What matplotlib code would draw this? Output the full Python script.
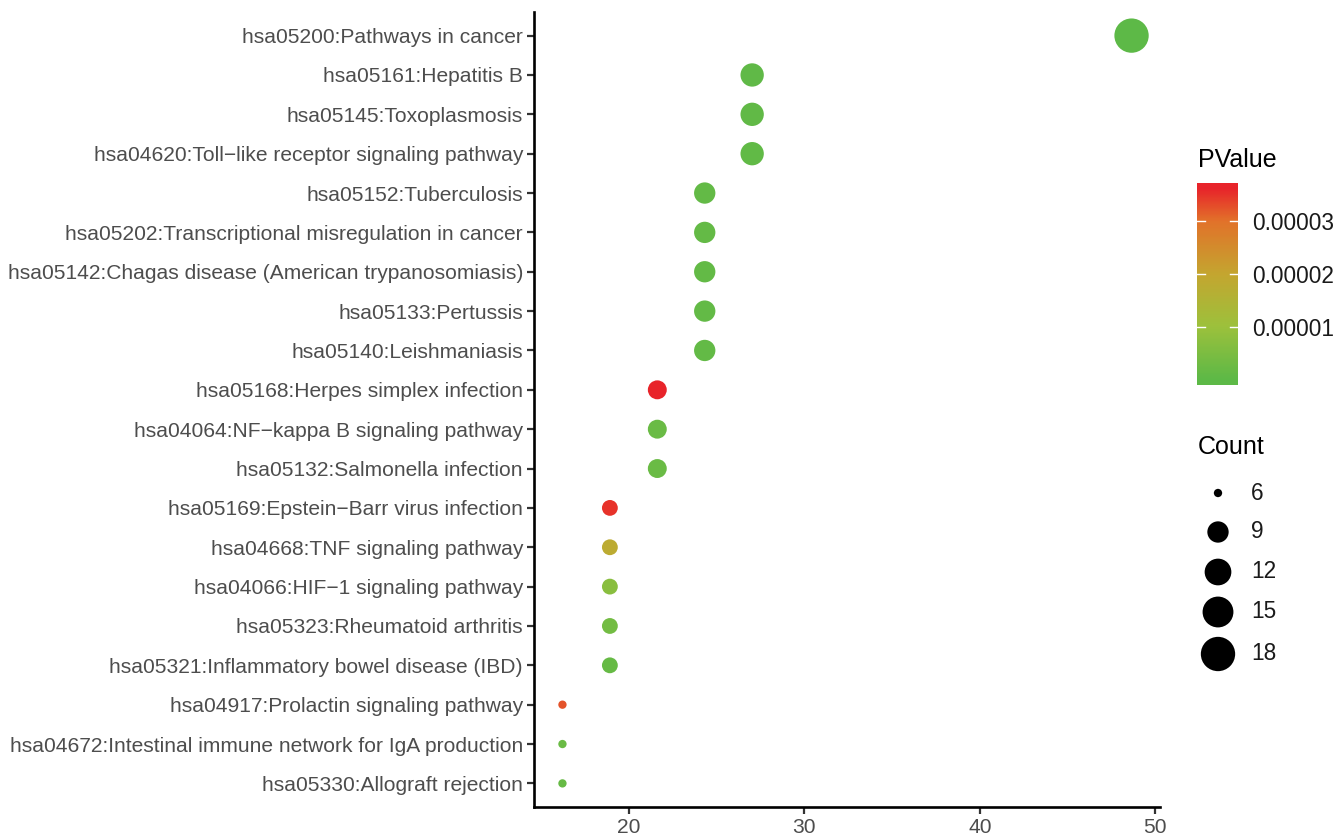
import numpy as np
import matplotlib
matplotlib.use("Agg")
import matplotlib.pyplot as plt
from matplotlib.colors import LinearSegmentedColormap, Normalize

plt.rcParams['font.family'] = ['Liberation Sans', 'DejaVu Sans']

# KEGG pathway enrichment, top row first
terms = [
    "hsa05200:Pathways in cancer",
    "hsa05161:Hepatitis B",
    "hsa05145:Toxoplasmosis",
    "hsa04620:Toll\u2212like receptor signaling pathway",
    "hsa05152:Tuberculosis",
    "hsa05202:Transcriptional misregulation in cancer",
    "hsa05142:Chagas disease (American trypanosomiasis)",
    "hsa05133:Pertussis",
    "hsa05140:Leishmaniasis",
    "hsa05168:Herpes simplex infection",
    "hsa04064:NF\u2212kappa B signaling pathway",
    "hsa05132:Salmonella infection",
    "hsa05169:Epstein\u2212Barr virus infection",
    "hsa04668:TNF signaling pathway",
    "hsa04066:HIF\u22121 signaling pathway",
    "hsa05323:Rheumatoid arthritis",
    "hsa05321:Inflammatory bowel disease (IBD)",
    "hsa04917:Prolactin signaling pathway",
    "hsa04672:Intestinal immune network for IgA production",
    "hsa05330:Allograft rejection",
]
counts = [18, 10, 10, 10, 9, 9, 9, 9, 9, 8, 8, 8, 7, 7, 7, 7, 7, 6, 6, 6]
total_genes = 37
pvalues = [1e-8, 5e-7, 6e-7, 8e-7, 1.0e-6, 1.2e-6, 1.0e-6, 1.0e-6, 1.1e-6,
           3.62e-5, 2.0e-6, 2.0e-6, 3.5e-5, 1.8e-5, 7e-6, 3.5e-6, 1.5e-6,
           3.25e-5, 2.0e-6, 1.5e-6]
size_breaks = [6, 9, 12, 15, 18]
p_breaks = [1e-5, 2e-5, 3e-5]
p_labels = ["0.00001", "0.00002", "0.00003"]

ratio = np.array(counts) / total_genes * 100
pv = np.array(pvalues)

cmap = LinearSegmentedColormap.from_list(
    "gr", [(0.0, "#5DB947"), (0.28, "#9DC13C"), (0.55, "#C4A630"),
           (0.83, "#E2722A"), (1.0, "#E8242A")])
norm = Normalize(vmin=pv.min(), vmax=pv.max())


def marker_area(c):
    c = np.asarray(c, dtype=float)
    gg = 1 + 5 * np.sqrt((c - min(counts)) / (max(counts) - min(counts)))
    diam_px = 5.2 * (gg + 0.6)
    return (diam_px * 0.72) ** 2


fig = plt.figure(figsize=(13.36, 8.35), dpi=100)
ax = fig.add_axes([534 / 1336, 1 - 807 / 835, (1160 - 534) / 1336, (807 - 12) / 835])

ypos = np.arange(len(terms))[::-1]
ax.scatter(ratio, ypos, s=marker_area(counts), c=cmap(norm(pv)), edgecolors='none', zorder=3)

span = ratio.max() - ratio.min()
ax.set_xlim(ratio.min() - 0.05 * span, ratio.max() + 0.05 * span)
ax.set_ylim(-0.6, len(terms) - 0.4)
ax.set_yticks(ypos)
ax.set_yticklabels(terms)
ax.set_xticks([20, 30, 40, 50])
for s in ['top', 'right']:
    ax.spines[s].set_visible(False)
for s in ['left', 'bottom']:
    ax.spines[s].set_linewidth(1.9)
    ax.spines[s].set_color('black')
ax.tick_params(axis='both', length=5, width=1.6, color='#333333',
               labelsize=15.1, labelcolor='#4D4D4D', pad=3)

# colourbar for PValue
R = pv.max() - pv.min()
lo, hi = pv.min() - 0.026 * R, pv.max() + 0.026 * R
cax = fig.add_axes([1197 / 1336, 1 - 385 / 835, 41 / 1336, 202 / 835])
grad = np.linspace(lo, hi, 300).reshape(-1, 1)
cax.imshow(cmap(norm(np.clip(grad, pv.min(), pv.max()))), origin='lower', aspect='auto',
           extent=[0, 1, lo, hi])
cax.set_xlim(0, 1)
cax.set_ylim(lo, hi)
for b in p_breaks:
    cax.plot([0, 0.2], [b, b], color='white', lw=1)
    cax.plot([0.8, 1], [b, b], color='white', lw=1)
cax.set_xticks([])
cax.set_yticks(p_breaks)
cax.set_yticklabels(p_labels)
cax.yaxis.tick_right()
cax.tick_params(axis='y', length=0, labelsize=16.3, labelcolor='#1A1A1A', pad=10)
for s in cax.spines.values():
    s.set_visible(False)
fig.text(1198 / 1336, 1 - 160 / 835, "PValue", fontsize=18, color='black', va='center', ha='left')

# size legend for Count
fig.text(1198 / 1336, 1 - 447 / 835, "Count", fontsize=18, color='black', va='center', ha='left')
lax = fig.add_axes([1190 / 1336, 1 - 680 / 835, 140 / 1336, 210 / 835])
lax.set_xlim(1190, 1330)
lax.set_ylim(680, 470)
leg_y = [493, 532, 572, 612, 654]
lax.scatter([1218] * len(size_breaks), leg_y, s=marker_area(size_breaks), color='black',
            edgecolors='none')
for yy, b in zip(leg_y, size_breaks):
    lax.text(1251, yy, str(b), fontsize=16.3, color='#1A1A1A', va='center', ha='left')
lax.axis('off')

fig.savefig("out.png", dpi=100)
